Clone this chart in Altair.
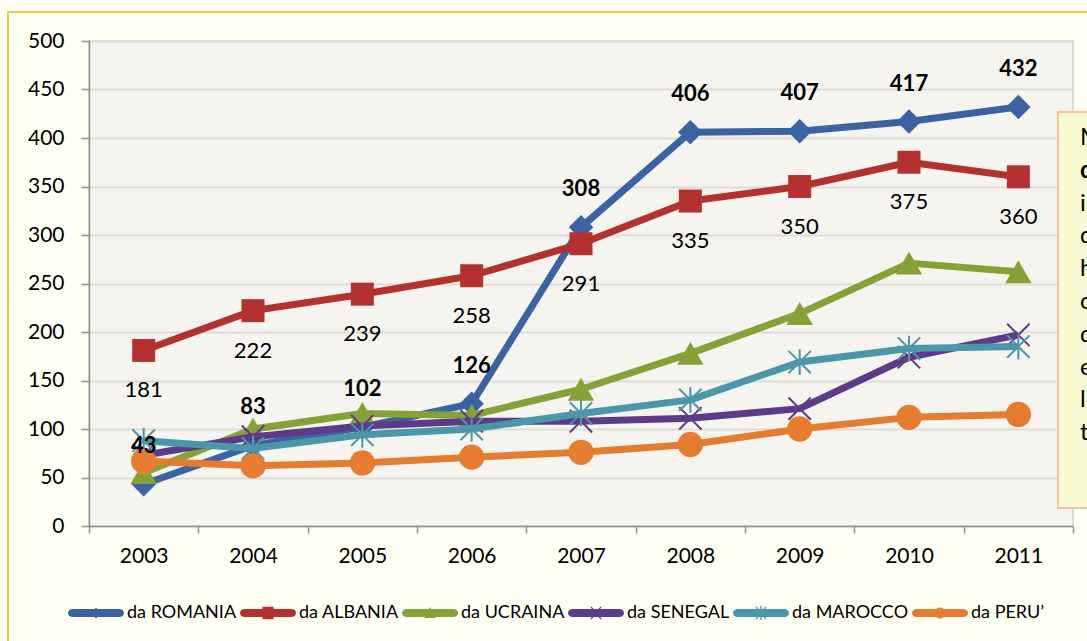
import math
import altair as alt
import pandas as pd

# --- data -------------------------------------------------------------
anni = ["2003", "2004", "2005", "2006", "2007", "2008", "2009", "2010", "2011"]
serie = ["da ROMANIA", "da ALBANIA", "da UCRAINA", "da SENEGAL", "da MAROCCO", "da PERU’"]

romania = [43, 83, 102, 126, 308, 406, 407, 417, 432]
albania = [181, 222, 239, 258, 291, 335, 350, 375, 360]
ucraina = [55, 100, 116, 114, 141, 178, 219, 271, 262]
senegal = [73, 92, 103, 108, 108, 111, 121, 174, 197]
marocco = [88, 80, 94, 100, 116, 130, 169, 183, 185]
peru = [67, 62, 65, 71, 76, 84, 100, 112, 115]
valori = [romania, albania, ucraina, senegal, marocco, peru]

# letters of the side note that fit in the frame (second line is bold)
nota_righe = ["M", "d", "i", "d", "h", "c", "d", "e", "l", "t"]
nota_grassetto = [False, True, False, False, False, False, False, False, False, False]

# --- styles -----------------------------------------------------------
FONT = "Lato"
colori = ["#3B62A2", "#B3322F", "#86A236", "#5E3B89", "#4A97AA", "#E57C30"]
AX = "#8F8F8F"
GRID = "#DEDCD7"

X_PATH = "M-1,-1L1,1M-1,1L1,-1"
STAR_PATH = "M-1,-1L1,1M-1,1L1,-1M0,-1.15L0,1.15"
marker = [
    dict(shape="diamond", size=600, filled=True),
    dict(shape="square", size=529, filled=True),
    dict(shape="triangle-up", size=700, filled=True),
    dict(shape=X_PATH, size=500, filled=False, strokeWidth=2),
    dict(shape=STAR_PATH, size=500, filled=False, strokeWidth=2),
    dict(shape="circle", size=640, filled=True),
]


# --- legend glyphs: thick line with a small marker, as one filled path ---
def _oriented(pts):
    area = sum(pts[i][0] * pts[(i + 1) % len(pts)][1] - pts[(i + 1) % len(pts)][0] * pts[i][1]
               for i in range(len(pts)))
    return pts if area > 0 else pts[::-1]


def _poly(pts):
    pts = _oriented(pts)
    return "M" + "L".join(f"{x:.3f},{y:.3f}" for x, y in pts) + "Z"


def _segment(x1, y1, x2, y2, w):
    dx, dy = x2 - x1, y2 - y1
    n = math.hypot(dx, dy)
    nx, ny = -dy / n * w, dx / n * w
    return _poly([(x1 + nx, y1 + ny), (x2 + nx, y2 + ny), (x2 - nx, y2 - ny), (x1 - nx, y1 - ny)])


def _circle(r, n=20):
    return _poly([(r * math.cos(2 * math.pi * k / n), r * math.sin(2 * math.pi * k / n)) for k in range(n)])


H = 0.14
cap = [(1 - H + H * math.cos(a), H * math.sin(a)) for a in [-math.pi / 2 + k * math.pi / 8 for k in range(9)]]
pill = _poly([(-(1 - H), -H), (1 - H, -H)] + cap[1:-1] + [(1 - H, H), (-(1 - H), H)]
             + [(-x, -y) for x, y in cap[1:-1]])

legend_glyphs = [
    pill + _poly([(-0.2, 0), (0, -0.2), (0.2, 0), (0, 0.2)]),
    pill + _poly([(-0.2, -0.22), (0.2, -0.22), (0.2, 0.22), (-0.2, 0.22)]),
    pill + _poly([(0, -0.22), (0.2, 0.18), (-0.2, 0.18)]),
    pill + _segment(-0.18, -0.22, 0.18, 0.22, 0.025) + _segment(-0.18, 0.22, 0.18, -0.22, 0.025),
    pill + _segment(-0.18, -0.22, 0.18, 0.22, 0.025) + _segment(-0.18, 0.22, 0.18, -0.22, 0.025)
    + _segment(0, -0.25, 0, 0.25, 0.025),
    pill + _circle(0.2),
]

# --- long table -----------------------------------------------------------
rows = []
for nome, serie_valori in zip(serie, valori):
    for anno, v in zip(anni, serie_valori):
        rows.append({"serie": nome, "anno": anno, "valore": v})
df = pd.DataFrame(rows)

x_enc = alt.X(
    "anno:O",
    sort=anni,
    bandPosition=0.5,
    scale=alt.Scale(type="band", paddingInner=0, paddingOuter=0),
    axis=alt.Axis(
        title=None, grid=False, tickBand="extent", labelAngle=0,
        labelFont=FONT, labelFontSize=21, labelColor="black", labelPadding=12,
        tickSize=7, tickColor=AX, tickWidth=1.5, domainColor=AX, domainWidth=1.5,
    ),
)
y_enc = alt.Y(
    "valore:Q",
    scale=alt.Scale(domain=[0, 500], nice=False),
    axis=alt.Axis(
        title=None, values=list(range(0, 501, 50)), grid=True, gridColor=GRID, gridWidth=2,
        labelFont=FONT, labelFontSize=21, labelColor="black", labelPadding=17,
        tickSize=8, tickColor=AX, tickWidth=1.5, domainColor=AX, domainWidth=1.5,
    ),
)

base = alt.Chart(df)
layers = []
for nome, colore, m in zip(serie, colori, marker):
    sub = base.transform_filter(alt.datum.serie == nome)
    layers.append(sub.mark_line(color=colore, strokeWidth=7, strokeJoin="round").encode(x=x_enc, y=y_enc))
    layers.append(sub.mark_point(color=colore, opacity=1, **m).encode(x=x_enc, y=y_enc))

# value labels: Romania in bold above, Albania below
layers.append(
    base.transform_filter(alt.datum.serie == serie[0])
    .mark_text(font=FONT, fontSize=22, fontWeight="bold", color="black", dy=-38)
    .encode(x=x_enc, y=y_enc, text="valore:Q")
)
layers.append(
    base.transform_filter(alt.datum.serie == serie[1])
    .mark_text(font=FONT, fontSize=22, color="black", dy=40)
    .encode(x=x_enc, y=y_enc, text="valore:Q")
)

# legend from a layer with no rows, so only the guide is drawn
leg = alt.Legend(
    title=None, orient="none", legendX=-21, legendY=544, direction="horizontal", columns=6,
    symbolSize=3136, symbolStrokeWidth=0, labelFont=FONT, labelFontSize=18, labelColor="black",
    labelOffset=3, columnPadding=3,
)
layers.append(
    base.transform_filter("false")
    .mark_point(filled=True, opacity=1, size=3136)
    .encode(
        x=x_enc, y=y_enc,
        color=alt.Color("serie:N", scale=alt.Scale(domain=serie, range=colori), legend=leg),
        shape=alt.Shape("serie:N", scale=alt.Scale(domain=serie, range=legend_glyphs), legend=leg),
    )
)

one = pd.DataFrame({"k": [0]})
frame = alt.Chart(one).mark_rect(fill="transparent", stroke="#F8C444", strokeWidth=2).encode(
    x=alt.value(-81), x2=alt.value(1300), y=alt.value(-29), y2=alt.value(900)
)
note_box = alt.Chart(one).mark_rect(fill="#F9F9D3", stroke="#F8C190", strokeWidth=2).encode(
    x=alt.value(969), x2=alt.value(1300), y=alt.value(71), y2=alt.value(467)
)
note_lines = []
for i, (lettera, grassetto) in enumerate(zip(nota_righe, nota_grassetto)):
    note_lines.append(
        alt.Chart(one).mark_text(
            text=lettera, font=FONT, fontSize=24, fontWeight="bold" if grassetto else "normal",
            color="black", align="left", baseline="middle",
        ).encode(x=alt.value(991), y=alt.value(97 + 32.8 * i))
    )

chart = (
    alt.layer(frame, *layers, note_box, *note_lines)
    .properties(
        width=984, height=485,
        padding={"left": 89, "top": 41, "right": 14, "bottom": 115},
        autosize=alt.AutoSizeParams(type="none"),
        background="#FFFFF4",
    )
    .configure_view(fill="#F6F4EE", stroke="#DDDBD6", strokeWidth=2)
)

chart.save("out.html", embed_options={"renderer": "svg", "actions": False})
